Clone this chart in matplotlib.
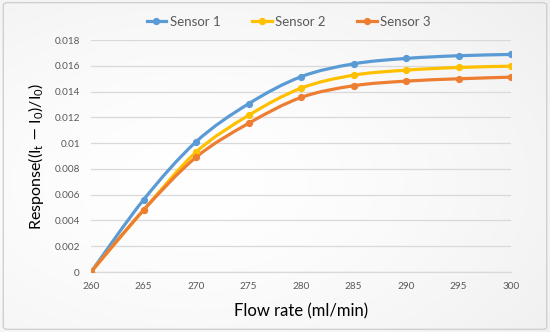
import numpy as np
import matplotlib
matplotlib.use("Agg")
import matplotlib.pyplot as plt
from matplotlib.path import Path
from matplotlib.patches import PathPatch, FancyBboxPatch
from matplotlib.lines import Line2D

flow_rate = [260, 265, 270, 275, 280, 285, 290, 295, 300]
sensor1 = [0, 0.0056, 0.0101, 0.01305, 0.01515, 0.01615, 0.01657, 0.01678, 0.01688]
sensor2 = [0, 0.0048, 0.0093, 0.01215, 0.01426, 0.01527, 0.01566, 0.01587, 0.01597]
sensor3 = [0, 0.0048, 0.0089, 0.01153, 0.01354, 0.01445, 0.01481, 0.01499, 0.01512]
series_names = ["Sensor 1", "Sensor 2", "Sensor 3"]
colors = ["#5B9BD5", "#FFC000", "#ED7D31"]
yticks = [0, 0.002, 0.004, 0.006, 0.008, 0.01, 0.012, 0.014, 0.016, 0.018]
ytick_labels = ["0", "0.002", "0.004", "0.006", "0.008", "0.01", "0.012", "0.014", "0.016", "0.018"]
xticks = [260, 265, 270, 275, 280, 285, 290, 295, 300]

plt.rcParams['font.family'] = ['Lato', 'DejaVu Sans']

fig = plt.figure(figsize=(5.5, 3.32), dpi=100)

# background gradient
bg = fig.add_axes([0, 0, 1, 1], zorder=-10)
gx = np.linspace(0, 1, 200)
gy = np.linspace(0, 1, 120)
X, Y = np.meshgrid(gx, gy)
d = np.clip(np.sqrt(((X - 0.35) / 0.9) ** 2 + ((Y - 0.45) / 0.9) ** 2), 0, 1)
val = 1 - 0.07 * d ** 1.5
img = np.dstack([val, val, val])
bg.imshow(img, extent=[0, 1, 0, 1], aspect='auto', origin='lower')
bg.set_axis_off()
border = FancyBboxPatch((0.006, 0.008), 0.988, 0.984, boxstyle="round,pad=0,rounding_size=0.008",
                        transform=fig.transFigure, fill=False, edgecolor="#d0d0d0", linewidth=1.0)
bg.add_patch(border)

ax = fig.add_axes([0.1655, 0.1807, 0.7636, 0.6988])
ax.patch.set_alpha(0)
ax.set_xlim(260, 300)
ax.set_ylim(0, 0.018)


def smooth_path(xs, ys, t=1 / 6):
    pts = list(zip(xs, ys))
    verts = [pts[0]]
    codes = [Path.MOVETO]
    n = len(pts)
    for i in range(n - 1):
        p0 = pts[i - 1] if i > 0 else pts[i]
        p1 = pts[i]
        p2 = pts[i + 1]
        p3 = pts[i + 2] if i + 2 < n else pts[i + 1]
        c1 = (p1[0] + (p2[0] - p0[0]) * t, p1[1] + (p2[1] - p0[1]) * t)
        c2 = (p2[0] - (p3[0] - p1[0]) * t, p2[1] - (p3[1] - p1[1]) * t)
        verts += [c1, c2, p2]
        codes += [Path.CURVE4] * 3
    return Path(verts, codes)


handles = []
for name, ys, c in zip(series_names, [sensor1, sensor2, sensor3], colors):
    patch = PathPatch(smooth_path(flow_rate, ys), facecolor='none', edgecolor=c,
                      linewidth=2.3, capstyle='round', joinstyle='round', zorder=3)
    ax.add_patch(patch)
    ax.plot(flow_rate, ys, linestyle='none', marker='o', markersize=4.2, color=c, zorder=4)
    handles.append(Line2D([0], [0], color=c, linewidth=2.3, marker='o', markersize=4.2))

ax.set_yticks(yticks)
ax.set_yticklabels(ytick_labels)
ax.set_xticks(xticks)
ax.grid(axis='y', color='#d9d9d9', linewidth=0.9)
ax.set_axisbelow(True)
for s in ['top', 'right', 'left']:
    ax.spines[s].set_visible(False)
ax.spines['bottom'].set_color('#d9d9d9')
ax.spines['bottom'].set_linewidth(0.9)
ax.tick_params(axis='both', length=0, colors='#595959', labelsize=7.2)
ax.tick_params(axis='y', pad=8)
ax.tick_params(axis='x', pad=7)

ax.set_xlabel("Flow rate (ml/min)", fontsize=12, color='#000000', labelpad=9)
ax.set_ylabel(r"Response((I$_\mathregular{t}$ $-$ I$_\mathregular{0}$)/I$_\mathregular{0}$)",
              fontsize=11.5, color='#000000', labelpad=6)

fig.legend(handles, series_names, loc='center', bbox_to_anchor=(0.525, 0.935), ncol=3,
           frameon=False, fontsize=9.5, labelcolor='#595959', handlelength=1.5,
           columnspacing=2.4, handletextpad=0.25)

fig.savefig("out.png", dpi=100)
